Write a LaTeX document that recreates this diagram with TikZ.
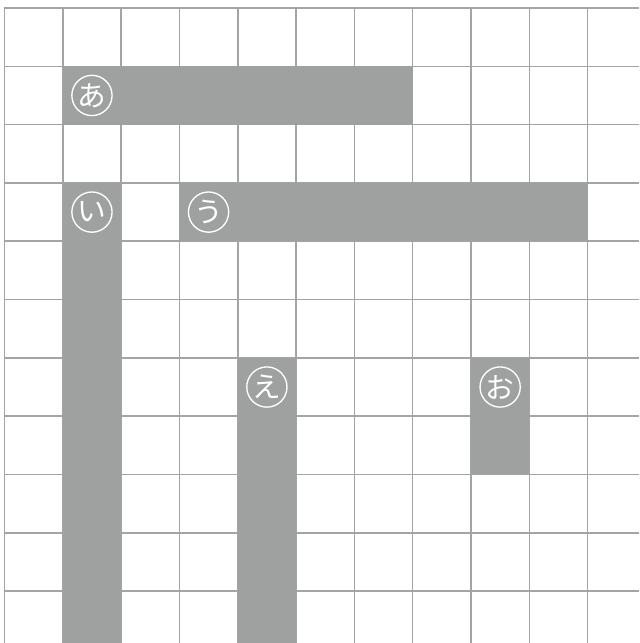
\documentclass[tikz,border=0pt]{standalone}
\usepackage{fontspec}
\newfontfamily\jpfont{Noto Sans CJK JP}
\usetikzlibrary{positioning}
\definecolor{GridLine}{HTML}{A3A4A4}
\definecolor{Bar}{HTML}{9FA0A0}
\tikzset{
  gridline/.style={draw=GridLine,line width=.75pt},
  bar/.style={fill=Bar,draw=none},
  tag/.style={circle,draw=white,line width=.65pt,minimum size=.69cm,inner sep=0pt,text=white,font=\jpfont\fontsize{14}{14}\selectfont}
}
\begin{document}
\begin{tikzpicture}
  \useasboundingbox (-0.077,0.137) rectangle (10.883,-10.89);
  % squares
  \foreach \x in {0,...,10} \draw[gridline] (\x,0) -- (\x,-10.89);
  \foreach \y in {0,...,10} \draw[gridline] (0,-\y) -- (10.883,-\y);
  % bars
  \fill[bar] (1,-1) rectangle (7,-2);
  \fill[bar] (1,-3) rectangle (2,-10.89);
  \fill[bar] (3,-3) rectangle (10,-4);
  \fill[bar] (4,-6) rectangle (5,-10.89);
  \fill[bar] (8,-6) rectangle (9,-8);
  % labels
  \node[tag] (a) at (1.5,-1.5) {あ};
  \node[tag] (i) at (1.5,-3.5) {い};
  \node[tag] (u) at (3.5,-3.5) {う};
  \node[tag] (e) at (4.5,-6.5) {え};
  \node[tag] (o) at (8.5,-6.5) {お};
\end{tikzpicture}
\end{document}
